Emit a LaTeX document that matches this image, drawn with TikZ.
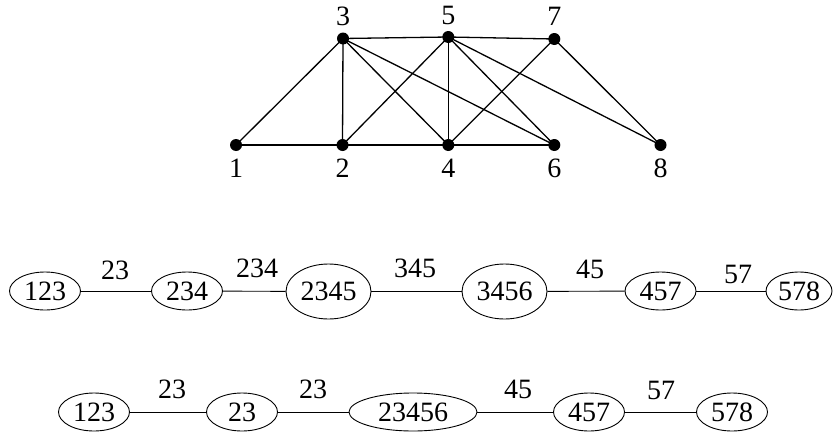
\documentclass[tikz,border=0pt]{standalone}
\usepackage{fontspec}
\setmainfont{Liberation Serif}
\usetikzlibrary{shapes.geometric}
\begin{document}
\begin{tikzpicture}[x=1pt,y=-1pt,
  every node/.style={font=\fontsize{28}{32}\selectfont},
  vdot/.style={circle,fill=black,inner sep=0pt,minimum size=12pt},
  vlab/.style={inner sep=0pt},
  gedge/.style={line width=1.3pt},
  tnode/.style={ellipse,draw,line width=0.9pt,inner sep=0pt,minimum width=71pt,minimum height=38pt},
  bignode/.style={tnode,minimum width=85pt,minimum height=55pt},
  tedge/.style={line width=0.9pt},
  elab/.style={inner sep=0pt}]
\useasboundingbox (0,0) rectangle (834,439);
% graph
\node[vdot] (v1) at (236,145) {};
\node[vdot] (v2) at (342.5,145) {};
\node[vdot] (v3) at (343,38.5) {};
\node[vdot] (v4) at (448.3,145) {};
\node[vdot] (v5) at (448.3,37) {};
\node[vdot] (v6) at (554.3,145) {};
\node[vdot] (v7) at (554.3,39) {};
\node[vdot] (v8) at (660.5,145) {};
\node[vlab] (l1) at (236,168) {1};
\node[vlab] (l2) at (342.5,168) {2};
\node[vlab] (l4) at (448.3,168) {4};
\node[vlab] (l6) at (554.3,168) {6};
\node[vlab] (l8) at (660.5,168) {8};
\node[vlab] (l3) at (343,16) {3};
\node[vlab] (l5) at (448.3,15) {5};
\node[vlab] (l7) at (554.3,16) {7};
\foreach \a/\b in {1/3,1/2,2/3,2/4,2/5,3/4,3/5,3/6,4/5,4/6,4/7,5/6,5/7,5/8,7/8}
  \draw[gedge] (v\a.center) -- (v\b.center);
% tree 1
\node[tnode] (a1) at (45,291) {123};
\node[tnode] (a2) at (187,291) {234};
\node[bignode] (a3) at (328.5,291.5) {2345};
\node[bignode] (a4) at (504.5,291.5) {3456};
\node[tnode] (a5) at (660.5,291) {457};
\node[tnode,minimum width=66pt] (a6) at (799,291) {578};
\draw[tedge] (a1) -- (a2) node[elab] at (115,270) {23};
\draw[tedge] (a2) -- (a3) node[elab] at (257,268) {234};
\draw[tedge] (a3) -- (a4) node[elab] at (415,268) {345};
\draw[tedge] (a4) -- (a5) node[elab] at (590,269) {45};
\draw[tedge] (a5) -- (a6) node[elab] at (738,274) {57};
% tree 2
\node[tnode] (b1) at (94,412) {123};
\node[tnode] (b2) at (242,412) {23};
\node[tnode,minimum width=128pt] (b3) at (413,412) {23456};
\node[tnode] (b4) at (589,412) {457};
\node[tnode] (b5) at (732,412) {578};
\draw[tedge] (b1) -- (b2) node[elab] at (172,389) {23};
\draw[tedge] (b2) -- (b3) node[elab] at (313,389) {23};
\draw[tedge] (b3) -- (b4) node[elab] at (518,389) {45};
\draw[tedge] (b4) -- (b5) node[elab] at (661,390) {57};
\end{tikzpicture}
\end{document}
